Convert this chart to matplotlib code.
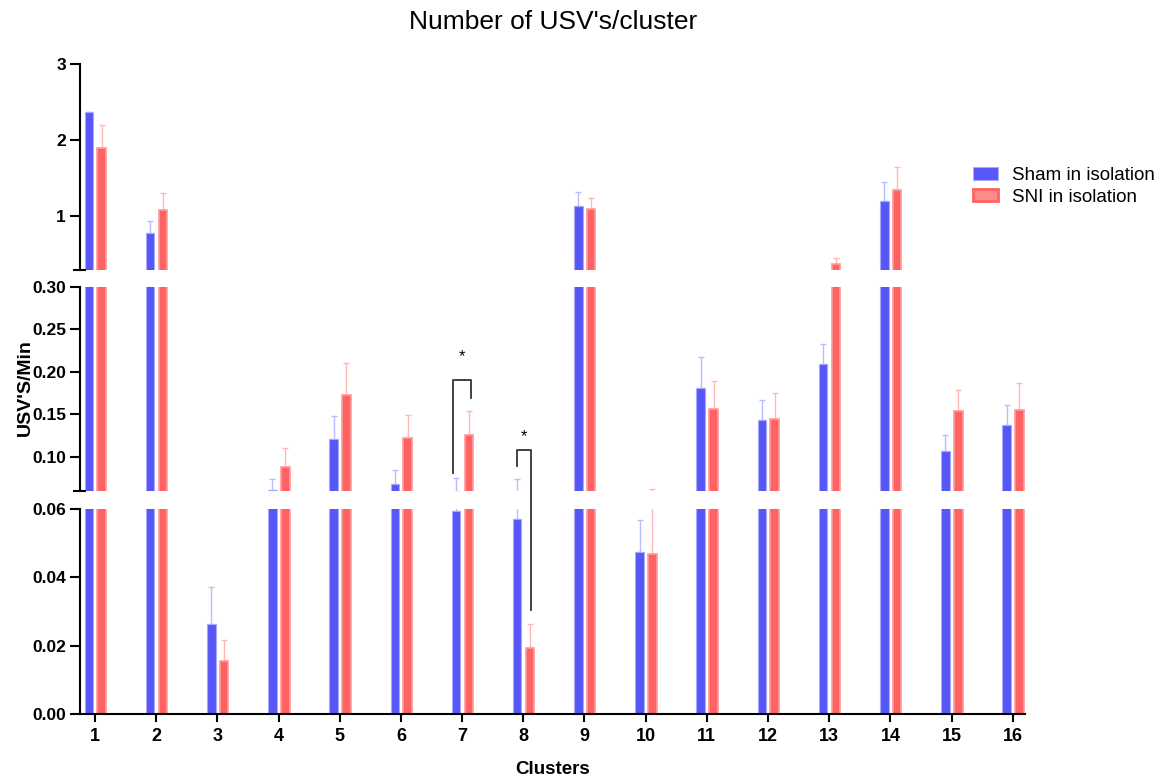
import numpy as np
import matplotlib.pyplot as plt
from matplotlib.lines import Line2D
from matplotlib.patches import Patch

plt.rcParams['font.family'] = ['Liberation Sans', 'DejaVu Sans']

clusters = np.arange(1, 17)
sham = [2.37, 0.78, 0.0264, 0.0614, 0.121, 0.0684, 0.0594, 0.0572,
        1.13, 0.0473, 0.181, 0.143, 0.209, 1.20, 0.107, 0.137]
sham_err = [0.0, 0.16, 0.0108, 0.0126, 0.027, 0.0166, 0.0156, 0.0171,
            0.19, 0.0095, 0.037, 0.0244, 0.024, 0.25, 0.0186, 0.0245]
sni = [1.89, 1.075, 0.0155, 0.0884, 0.1725, 0.122, 0.126, 0.0192,
       1.096, 0.0469, 0.1564, 0.1444, 0.37, 1.34, 0.154, 0.155]
sni_err = [0.31, 0.225, 0.0061, 0.0226, 0.0375, 0.027, 0.0285, 0.0072,
           0.144, 0.0153, 0.0326, 0.0306, 0.08, 0.30, 0.025, 0.032]

blue = '#5757f7'
red = '#ff6262'

W, H = 1168, 782
fig = plt.figure(figsize=(W / 100, H / 100), dpi=100)

def px_axes(top, bottom):
    return fig.add_axes([80 / W, 1 - bottom / H, (1025 - 80) / W, (bottom - top) / H])

ax_top = px_axes(63.5, 269.5)
ax_mid = px_axes(286.7, 491)
ax_bot = px_axes(509, 714)
axes = [ax_top, ax_mid, ax_bot]
limits = [(0.3, 3.0), (0.06, 0.30), (0.0, 0.06)]
ticks = [[1, 2, 3], [0.10, 0.15, 0.20, 0.25, 0.30], [0.00, 0.02, 0.04, 0.06]]
fmts = ['{:.0f}', '{:.2f}', '{:.2f}']

for ax, lim, tk, fmt in zip(axes, limits, ticks, fmts):
    ax.bar(clusters - 0.10, sham, width=0.14, color=blue,
           edgecolor='#a8a8ff', linewidth=0.8, zorder=2)
    ax.bar(clusters + 0.11, sni, width=0.14, color=red,
           edgecolor='#ff9a9a', linewidth=1.2, zorder=2)
    ax.errorbar(clusters - 0.10, sham, yerr=[np.zeros(16), sham_err], fmt='none',
                ecolor='#b9bcff', elinewidth=1, capsize=2, capthick=1, zorder=1)
    ax.errorbar(clusters + 0.11, sni, yerr=[np.zeros(16), sni_err], fmt='none',
                ecolor='#ffb8b8', elinewidth=1, capsize=2, capthick=1, zorder=1)
    ax.set_ylim(*lim)
    ax.set_xlim(0.755, 16.2)
    ax.set_yticks(tk)
    ax.set_yticklabels([fmt.format(t) for t in tk], fontsize=12.5, fontweight='bold')
    for s in ['top', 'right', 'bottom']:
        ax.spines[s].set_visible(False)
    ax.spines['left'].set_linewidth(1.5)
    ax.tick_params(axis='y', direction='out', length=7, width=1.5, pad=3)

for ax in [ax_top, ax_mid]:
    ax.tick_params(axis='x', bottom=False, labelbottom=False)
    # break marker at the lower end of the segment
    ax.plot([-0.0075, 0.0065], [0, 0], transform=ax.transAxes, color='black',
            lw=1.5, clip_on=False, solid_capstyle='butt')

ax_bot.spines['bottom'].set_visible(True)
ax_bot.spines['bottom'].set_linewidth(1.5)
ax_bot.set_xticks(clusters)
ax_bot.set_xticklabels([str(c) for c in clusters], fontsize=13, fontweight='bold')
ax_bot.tick_params(axis='x', direction='out', length=6, width=1.5, pad=4)

# significance brackets, spanning the axis breaks
def to_fig(ax, x, y):
    return fig.transFigure.inverted().transform(ax.transData.transform((x, y)))

def bracket(x0, x1, ax_top_y, y_top, ax0, y0, ax1, y1, ax_star, y_star):
    p0 = to_fig(ax0, x0, y0)
    p1 = to_fig(ax_top_y, x0, y_top)
    p2 = to_fig(ax_top_y, x1, y_top)
    p3 = to_fig(ax1, x1, y1)
    fig.add_artist(Line2D([p0[0], p1[0], p2[0], p3[0]], [p0[1], p1[1], p2[1], p3[1]],
                          transform=fig.transFigure, color='#333333', lw=1.3))
    ps = to_fig(ax_star, (x0 + x1) / 2, y_star)
    fig.text(ps[0], ps[1], '*', ha='center', va='center', fontsize=12)

bracket(7 - 0.15, 7 + 0.14, ax_mid, 0.190, ax_mid, 0.081, ax_mid, 0.169, ax_mid, 0.2175)
bracket(8 - 0.11, 8 + 0.12, ax_mid, 0.108, ax_mid, 0.089, ax_bot, 0.0305, ax_mid, 0.124)

fig.text(553 / W, 1 - 22 / H, "Number of USV's/cluster", ha='center', va='center', fontsize=19)
fig.text(25 / W, 1 - 388 / H, "USV'S/Min", ha='center', va='center', rotation=90,
         fontsize=14, fontweight='bold')
fig.text(553 / W, 1 - 770 / H, 'Clusters', ha='center', va='center',
         fontsize=13.5, fontweight='bold')

handles = [Patch(facecolor=blue, edgecolor='#a8a8ff', linewidth=0.8),
           Patch(facecolor='#ff8a8a', edgecolor=red, linewidth=2)]
fig.legend(handles, ['Sham in isolation', 'SNI in isolation'], loc='upper left',
           bbox_to_anchor=(973 / W, 1 - 167 / H), frameon=False, fontsize=13.5,
           handlelength=1.33, handleheight=0.65, handletextpad=0.75,
           labelspacing=0.25, borderpad=0, borderaxespad=0)

fig.savefig('out.png', dpi=100)
